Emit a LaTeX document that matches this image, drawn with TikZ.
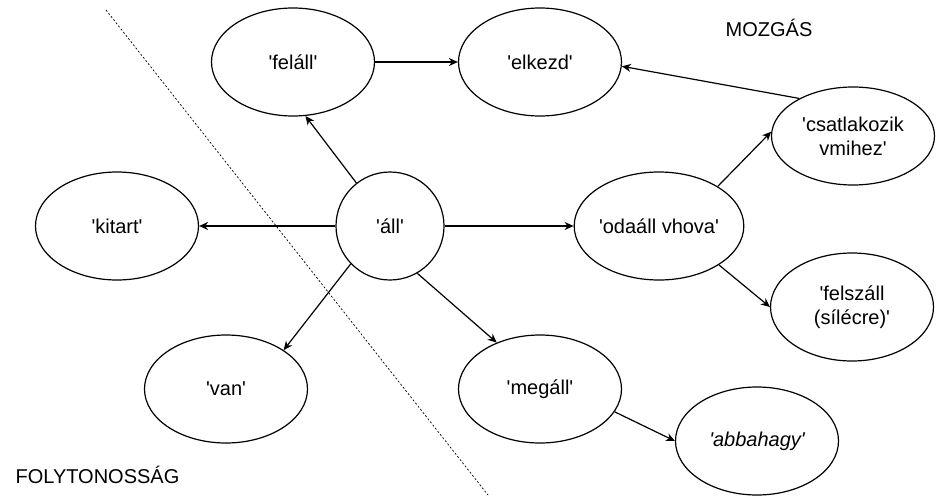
\documentclass[tikz,border=0pt]{standalone}
\usepackage{fontspec}
\newfontfamily\labelfont{Liberation Sans}
\usetikzlibrary{shapes,shapes.misc,arrows.meta}

\begin{document}
\begin{tikzpicture}[x=1pt, y=-1pt, line width=1.2pt, -{Stealth[length=9pt,width=8pt]},
      every node/.append style={font=\labelfont\fontsize{20}{24}\selectfont,align=center},
      sense/.style={draw=black,ellipse,minimum width=163pt,minimum height=108pt,inner sep=0pt}]
    \useasboundingbox (0,0) rectangle (936,495);
    % dividing line
    \coordinate (cuttop) at (106,10);
    \coordinate (cutbot) at (488,495);
    \draw [-,line width=0.7pt,dash pattern=on 2pt off 2pt] (cuttop) -- (cutbot);

    \node (all) [draw=black,circle,minimum size=108pt,inner sep=0pt] at (390,226) {'áll'};
    \node (felall) [sense] at (293,62) {'feláll'};
    \node (elkezd) [sense] at (540,62) {'elkezd'};
    \node (kitart) [sense] at (117,226) {'kitart'};
    \node (odaall) [sense] at (659,226) {'odaáll vhova'};
    \node (csatl) [sense,minimum height=98pt] at (853,136) {'csatlakozik\\vmihez'};
    \node (felszall) [sense] at (852,307) {'felszáll\\(sílécre)'};
    \node (megall) [sense] at (540,389) {'megáll'};
    \node (abbahagy) [sense] at (757,441) {\itshape 'abbahagy'};
    \node (van) [sense] at (226,389) {'van'};
    \node (mozgas) at (769,28) {MOZGÁS};
    \node (folyt) [anchor=base west,inner sep=0pt] at (15,483) {FOLYTONOSSÁG};

    \draw (felall) -- (elkezd);
    \draw (all.128) -- (felall.-77);
    \draw (all) -- (kitart);
    \draw (all) -- (odaall);
    \draw (all.-60) -- (megall.133);
    \draw (all.-136) -- (van.34);
    \draw (csatl.145) -- (elkezd.-3);
    \draw (odaall.34) -- (csatl.177);
    \draw (odaall.-33) -- (felszall.west);
    \draw (megall.-17) -- (abbahagy.west);
\end{tikzpicture}
\end{document}
